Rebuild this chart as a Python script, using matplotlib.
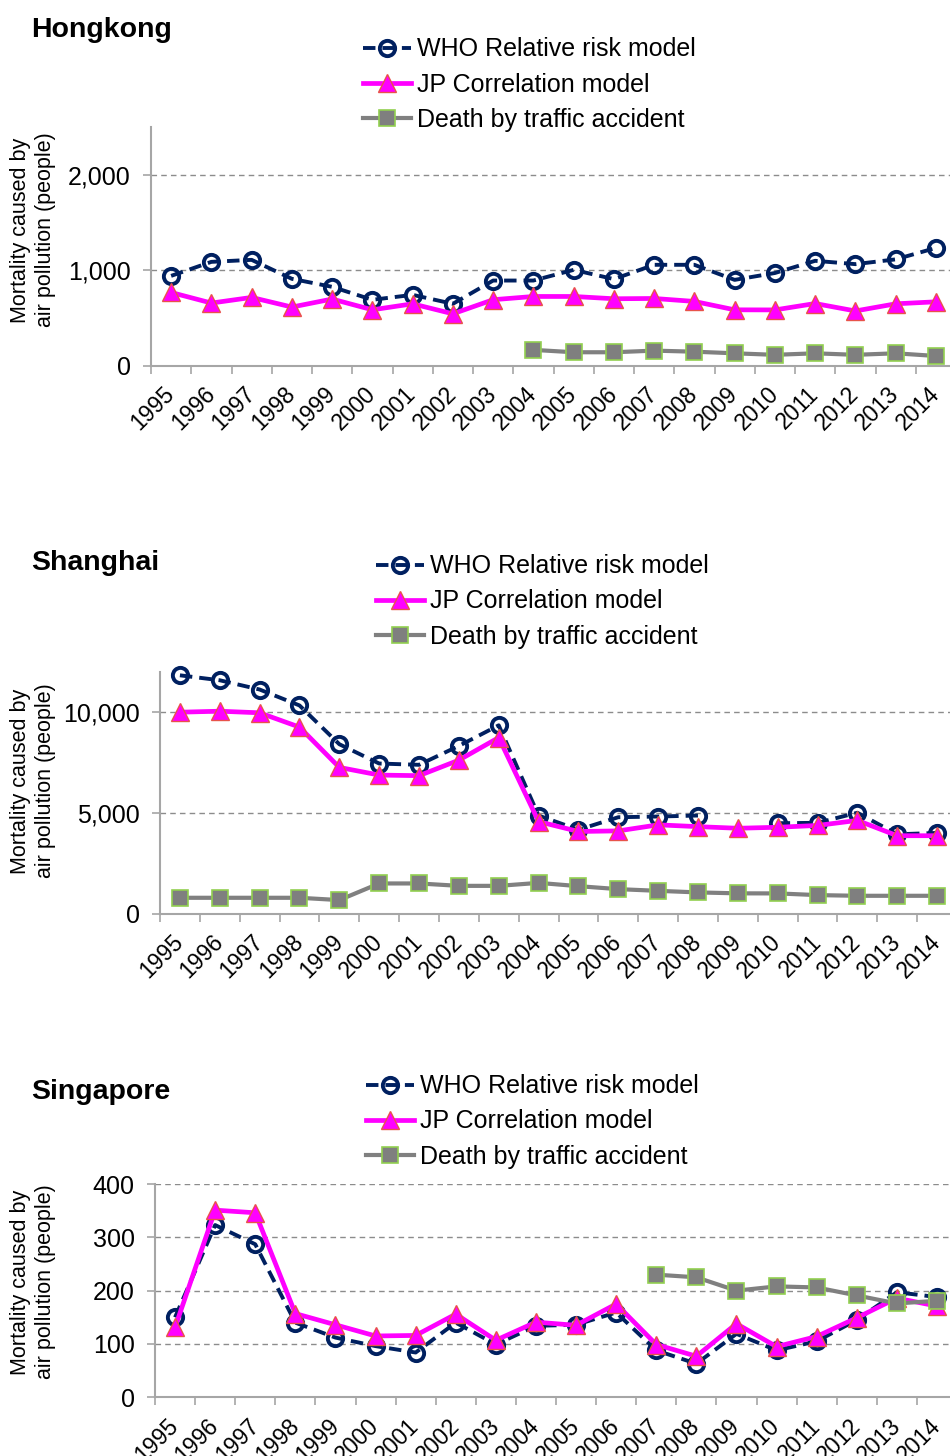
import numpy as np
import matplotlib
matplotlib.use("Agg")
import matplotlib.pyplot as plt
from matplotlib.ticker import FixedLocator, FuncFormatter

plt.rcParams['font.family'] = ['Liberation Sans', 'DejaVu Sans']

years = [str(y) for y in range(1995, 2015)]
nan = np.nan

series_labels = ["WHO Relative risk model", "JP Correlation model", "Death by traffic accident"]

hk_who = [942, 1089, 1110, 911, 827, 691, 743, 649, 893, 893, 1005, 908, 1058, 1058, 900, 972, 1100, 1065, 1115, 1235]
hk_jp = [768, 657, 716, 615, 699, 586, 649, 544, 692, 726, 726, 702, 705, 674, 586, 585, 652, 574, 649, 670]
hk_traffic = [nan]*9 + [166, 141, 141, 158, 147, 130, 114, 130, 114, 130, 102]

sh_who = [11821, 11575, 11116, 10326, 8401, 7443, 7379, 8317, 9339, 4862, 4156, 4778, 4813, 4862, nan, 4480, 4500, 5000, 3930, 4000]
sh_jp = [9990, 10040, 9960, 9250, 7250, 6870, 6840, 7610, 8730, 4560, 4070, 4100, 4400, 4310, 4230, 4280, 4370, 4620, 3860, 3860]
sh_traffic = [780, 780, 780, 780, 666, 1491, 1491, 1372, 1372, 1520, 1357, 1209, 1125, 1046, 1000, 997, 913, 879, 879, 879]

sg_who = [150, 323, 287, 140, 112, 96, 84, 140, 99, 134, 136, 159, 88, 63, 119, 88, 105, 145, 197, 188]
sg_jp = [131, 351, 346, 157, 136, 115, 116, 156, 107, 141, 135, 175, 99, 77, 138, 95, 114, 149, 186, 171]
sg_traffic = [nan]*12 + [230, 225, 200, 208, 206, 191, 176, 181]

panels = [
    dict(title="Hongkong", who=hk_who, jp=hk_jp, tr=hk_traffic, ymax=2500, yticks=[0, 1000, 2000]),
    dict(title="Shanghai", who=sh_who, jp=sh_jp, tr=sh_traffic, ymax=12000, yticks=[0, 5000, 10000]),
    dict(title="Singapore", who=sg_who, jp=sg_jp, tr=sg_traffic, ymax=400, yticks=[0, 100, 200, 300, 400]),
]

W, H = 950, 1456
fig = plt.figure(figsize=(W/100, H/100), dpi=100)

# layout in pixels: left, right, top, bottom
boxes = [(151, 956, 127.3, 365.7), (160, 957, 671.7, 913.5), (155, 957, 1184, 1397.3)]
title_y = [30, 563, 1092]
ylabel_y = [230, 781, 1282]
legend_xy = [(363, 84.5), (376, 601.5), (366, 1121.5)]

navy = '#002060'
spine_c = '#A6A6A6'

for p, (l, r, t, b), ty, ly, (lx, lyy) in zip(panels, boxes, title_y, ylabel_y, legend_xy):
    ax = fig.add_axes([l/W, 1-b/H, (r-l)/W, (b-t)/H])
    x = np.arange(len(years))
    ax.plot(x, p['who'], color=navy, lw=2.8, dashes=(3.2, 1.8), marker='o', ms=11,
            mfc='none', mec=navy, mew=2.8, label=series_labels[0], zorder=3, clip_on=False)
    ax.plot(x, p['jp'], color='#FF00FF', lw=3.4, marker='^', ms=13,
            mfc='#FF00FF', mec='#E8534A', mew=1.0, label=series_labels[1], zorder=4, clip_on=False)
    ax.plot(x, p['tr'], color='#808080', lw=3.0, marker='s', ms=11,
            mfc='#7F7F7F', mec='#92D050', mew=1.2, label=series_labels[2], zorder=5, clip_on=False)

    ax.set_xlim(-0.5, len(years)-0.5)
    ax.set_ylim(0, p['ymax'])
    ax.set_yticks(p['yticks'])
    ax.yaxis.set_major_formatter(FuncFormatter(lambda v, pos: f"{int(v):,}"))
    ax.xaxis.set_major_locator(FixedLocator(np.arange(-0.5, len(years)+0.5, 1)))
    ax.xaxis.set_minor_locator(FixedLocator(x))
    ax.set_xticklabels([])
    ax.set_xticklabels(years, minor=True, rotation=45, ha='right', va='center',
                       rotation_mode='anchor', fontsize=16.5)
    ax.tick_params(axis='x', which='major', length=6, width=1.2, color=spine_c, direction='out')
    ax.tick_params(axis='x', which='minor', length=0, pad=18)
    ax.tick_params(axis='y', length=6, width=1.2, color=spine_c, direction='out', labelsize=18, pad=8.5)

    for g in p['yticks'][1:]:
        ax.axhline(g, color='#8C8C8C', lw=1.0, ls=(0, (4, 3)), zorder=1)
    for s in ['top', 'right']:
        ax.spines[s].set_visible(False)
    for s in ['left', 'bottom']:
        ax.spines[s].set_color(spine_c)
        ax.spines[s].set_linewidth(1.5)

    fig.text(31/W, 1-ty/H, p['title'], fontsize=20.5, fontweight='bold', ha='left', va='center')
    fig.text(33/W, 1-ly/H, "Mortality caused by\nair pollution (people)", rotation=90,
             ha='center', va='center', multialignment='center', fontsize=15.5)
    ax.legend(loc='center left', bbox_to_anchor=(lx/W, 1-lyy/H), bbox_transform=fig.transFigure,
              frameon=False, fontsize=18, handlelength=1.9, handletextpad=0.25,
              labelspacing=0.45, borderpad=0, borderaxespad=0)

fig.savefig('out.png', dpi=100)
